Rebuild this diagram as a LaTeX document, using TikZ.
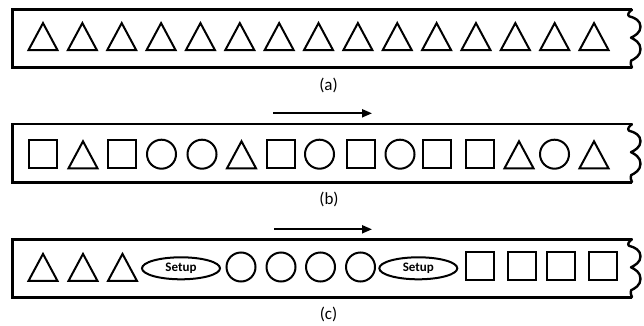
\documentclass[tikz,border=0pt]{standalone}
\usepackage{fontspec}
\setmainfont{Carlito}
\usetikzlibrary{arrows.meta,shapes.geometric}
\begin{document}
\begin{tikzpicture}[x=1pt,y=-1pt,
  boxline/.style={line width=2.4pt},
  shapeline/.style={line width=2pt},
  flow/.style={line width=2pt,-{Triangle[length=10pt,width=8pt]}},
  tri/.pic={\draw[shapeline] (-14.5,13.5) -- (0,-13.5) -- (14.5,13.5) -- cycle;},
  % torn right end of a strip: two rounded lobes
  wave/.pic={\draw[boxline,line cap=round,line join=round]
     (0,0) .. controls (-3,2) and (-5,5) .. (-3,6.5)
           .. controls (3,8) and (8.5,11) .. (8.5,17)
           .. controls (8.5,23) and (3,26) .. (-1,28)
           .. controls (3,30) and (8.5,33) .. (8.5,39.5)
           .. controls (8.5,46) and (3,49) .. (-1,51)
           .. controls (-2,53) and (-1,56) .. (0,57.8);},
  sqr/.style={draw,shapeline,rectangle,inner sep=0pt,minimum size=28pt},
  circ/.style={draw,shapeline,circle,inner sep=0pt,minimum size=29pt},
  setup/.style={draw,shapeline,ellipse,inner sep=0pt,minimum width=78pt,minimum height=22pt,
     font=\fontsize{13}{15}\selectfont\bfseries},
  caption/.style={inner sep=0pt,font=\fontsize{17}{20}\selectfont}]
\useasboundingbox (0,0) rectangle (644,326);

% --- strip (a): only triangles
\draw[boxline] (632,9.7) -- (12.3,9.7) -- (12.3,67.5) -- (632,67.5);
\pic at (632,9.7) {wave};
\foreach \i in {0,...,14} {
  \pic at ({43+39.36*\i},36.6) {tri};
}
\node[caption] (capa) at (328.5,85) {(a)};

% --- strip (b): mixed parts
\coordinate (b0) at (273,113.3);
\coordinate (b1) at (372,113.3);
\draw[flow] (b0) -- (b1);
\draw[boxline] (632,124.2) -- (12.3,124.2) -- (12.3,182.5) -- (632,182.5);
\pic at (632,124.2) {wave};
\node[sqr]  (b-0)  at (43,154.2) {};
\pic at (83,154.8) {tri};
\node[sqr]  (b-2)  at (122,154.2) {};
\node[circ] (b-3)  at (161.5,154.2) {};
\node[circ] (b-4)  at (202,154.2) {};
\pic at (241.5,154.8) {tri};
\node[sqr]  (b-6)  at (281,154.2) {};
\node[circ] (b-7)  at (319.5,154.2) {};
\node[sqr]  (b-8)  at (360.5,154.2) {};
\node[circ] (b-9)  at (400,154.2) {};
\node[sqr]  (b-10) at (437,154.2) {};
\node[sqr]  (b-11) at (480,154.2) {};
\pic at (519,154.8) {tri};
\node[circ] (b-13) at (554.5,154.2) {};
\pic at (594,154.8) {tri};
\node[caption] (capb) at (329,199) {(b)};

% --- strip (c): grouped parts with setups
\coordinate (c0) at (274,229.3);
\coordinate (c1) at (372,229.3);
\draw[flow] (c0) -- (c1);
\draw[boxline] (632,239.3) -- (12.3,239.3) -- (12.3,297.5) -- (632,297.5);
\pic at (632,239.3) {wave};
\pic at (43,267.4) {tri};
\pic at (83,267.4) {tri};
\pic at (122.5,267.4) {tri};
\node[setup] (s1) at (181,268.3) {Setup};
\node[circ] (c-1) at (241,267) {};
\node[circ] (c-2) at (281,267) {};
\node[circ] (c-3) at (320.5,267) {};
\node[circ] (c-4) at (360.5,267) {};
\node[setup] (s2) at (418.3,268.3) {Setup};
\node[sqr] (q-1) at (479.5,265.5) {};
\node[sqr] (q-2) at (522,265.5) {};
\node[sqr] (q-3) at (561,265.5) {};
\node[sqr] (q-4) at (603.3,265.5) {};
\node[caption] (capc) at (328.5,314) {(c)};
\end{tikzpicture}
\end{document}
